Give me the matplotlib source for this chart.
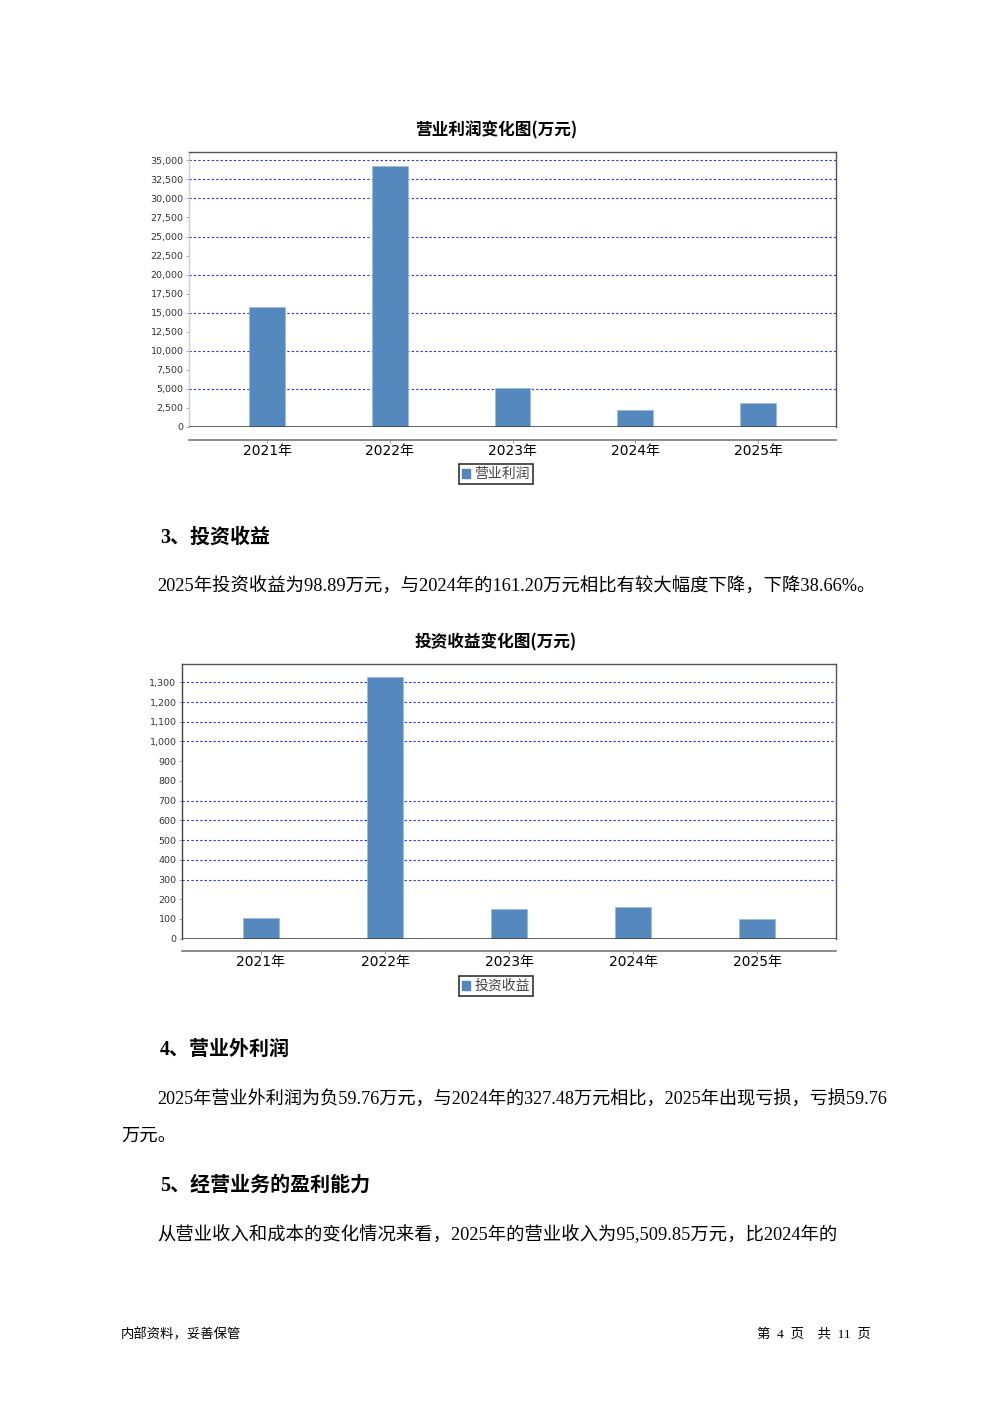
import matplotlib
matplotlib.use("Agg")
import matplotlib.pyplot as plt
from matplotlib.patches import Patch
from matplotlib.ticker import FuncFormatter, MultipleLocator

# ---------------- data ----------------
years = ["2021年", "2022年", "2023年", "2024年", "2025年"]
op_profit = [15700, 34250, 5160, 2190, 3150]          # 营业利润 (万元)
invest_income = [103, 1327, 151, 161.2, 98.89]        # 投资收益 (万元)
op_grid = [5000, 10000, 15000, 20000, 25000, 30000, 32500, 35000]
inv_grid = [300, 400, 500, 600, 700, 1000, 1100, 1200, 1300]

chart1_title = "营业利润变化图(万元)"
chart2_title = "投资收益变化图(万元)"
legend1 = "营业利润"
legend2 = "投资收益"

heading3 = "3、投资收益"
para3 = "2025年投资收益为98.89万元，与2024年的161.20万元相比有较大幅度下降，下降38.66%。"
heading4 = "4、营业外利润"
para4a = "2025年营业外利润为负59.76万元，与2024年的327.48万元相比，2025年出现亏损，亏损59.76"
para4b = "万元。"
heading5 = "5、经营业务的盈利能力"
para5 = "从营业收入和成本的变化情况来看，2025年的营业收入为95,509.85万元，比2024年的"
footer_left = "内部资料，妥善保管"
footer_right = "第  4  页    共  11  页"

# ---------------- style ----------------
W, H = 992, 1403
BAR = "#5588BD"
SANS = ["DejaVu Sans", "Noto Sans CJK SC"]
CJK = ["Noto Sans CJK SC", "DejaVu Sans"]
BODY = ["Liberation Serif", "Noto Sans CJK SC"]
plt.rcParams["font.family"] = SANS

fig = plt.figure(figsize=(W / 100, H / 100), dpi=100)
fig.patch.set_facecolor("white")


def fx(x):
    return x / W


def fy(y):
    return 1 - y / H


def make_chart(left, right, top, bottom, values, ymax, step, grid, title, title_y,
               legend_label, legend_y):
    ax = fig.add_axes([fx(left), fy(bottom), fx(right - left), (bottom - top) / H])
    x = list(range(len(values)))
    ax.bar(x, values, width=0.29, color=BAR, edgecolor="#9dbbdc", linewidth=0.6, zorder=3)
    ax.set_xlim(-0.636, len(values) - 1 + 0.636)
    ax.set_ylim(0, ymax)
    ax.yaxis.set_major_locator(MultipleLocator(step))
    ax.yaxis.set_major_formatter(FuncFormatter(lambda v, p: f"{v:,.0f}"))
    for g in grid:
        ax.axhline(g, color="#2a2af0", linestyle=(0, (2, 2)), linewidth=0.8, zorder=1)
    ax.axhline(0, color="#444444", linewidth=1.2, zorder=4)
    ax.set_xticks(x)
    ax.set_xticklabels(years, fontsize=8.2, color="#333333")
    ax.tick_params(axis="y", labelsize=6.8, colors="#333333", length=2, width=0.6, pad=2,
                   color="#999999")
    ax.tick_params(axis="x", length=2, width=0.6, color="#888888", pad=1)
    ax.spines["bottom"].set_position(("outward", 9))
    ax.spines["bottom"].set_color("#777777")
    ax.spines["bottom"].set_linewidth(1.2)
    ax.spines["left"].set_color("#cccccc")
    ax.spines["left"].set_linewidth(1.0)
    for s in ("top", "right"):
        ax.spines[s].set_color("#555555")
        ax.spines[s].set_linewidth(1.0)
    fig.text(fx(496), fy(title_y), title, ha="center", va="center", fontsize=12,
             fontweight="bold", family=CJK)
    leg = fig.legend(handles=[Patch(facecolor=BAR, edgecolor=BAR, label=legend_label)],
                     loc="center", bbox_to_anchor=(fx(496), fy(legend_y)),
                     prop={"family": CJK, "size": 10}, frameon=True, fancybox=False,
                     handlelength=0.6, handleheight=0.6, handletextpad=0.3,
                     borderpad=0.2, borderaxespad=0)
    leg.get_frame().set_edgecolor("black")
    leg.get_frame().set_linewidth(1.2)
    for t in leg.get_texts():
        t.set_color("#444444")
    return ax


make_chart(189, 836, 152.3, 427, op_profit, 36050, 2500, op_grid, chart1_title, 130.5,
           legend1, 474)
ax2 = make_chart(182, 836, 664, 938.7, invest_income, 1393, 100, inv_grid, chart2_title, 642.5,
                 legend2, 986)
ax2.spines["left"].set_color("#444444")

# ---------------- body text ----------------
def heading(x, y, s):
    fig.text(fx(x), fy(y), s, ha="left", va="center", fontsize=14.4, fontweight="bold",
             family=["Liberation Serif", "Noto Sans CJK SC"])


def body(x, y, s, size=13.2):
    fig.text(fx(x), fy(y), s, ha="left", va="center", fontsize=size, family=BODY)


heading(160, 538, heading3)
body(157, 587, para3)
heading(160, 1050, heading4)
body(157, 1099, para4a, size=13.05)
body(121, 1136, para4b)
heading(160, 1186, heading5)
body(157, 1235, para5)

fig.text(fx(121), fy(1334), footer_left, ha="left", va="center", fontsize=9.6, family=CJK)
fig.text(fx(871), fy(1334), footer_right, ha="right", va="center", fontsize=9.6,
         family=["Liberation Serif", "Noto Sans CJK SC"])

fig.savefig("out.png", dpi=100, facecolor="white")
